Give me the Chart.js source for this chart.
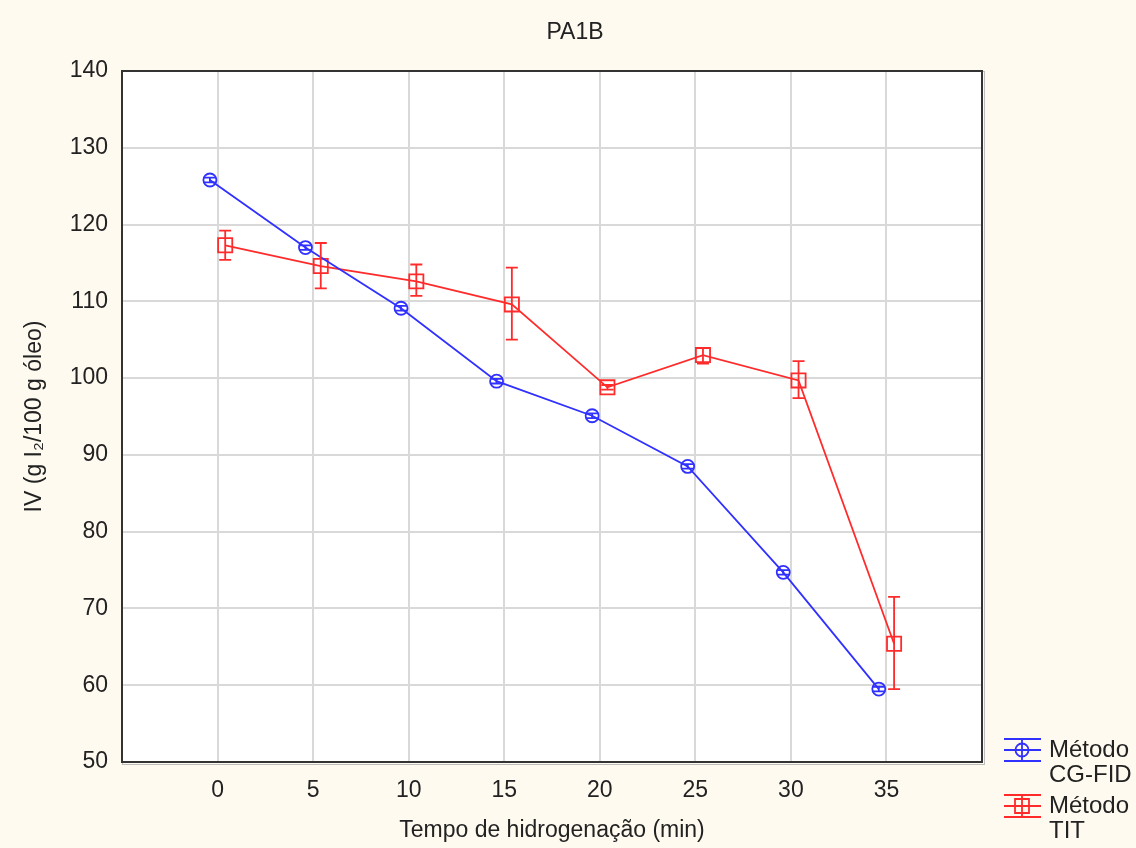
<!DOCTYPE html>
<html>
<head>
<meta charset="utf-8">
<script src="https://cdn.jsdelivr.net/npm/chart.js@4.4.0/dist/chart.umd.min.js"></script>
<style>
  html, body { margin: 0; padding: 0; background: #fffaf0; }
  #wrap { width: 1136px; height: 848px; }
</style>
</head>
<body>
<div id="wrap"><canvas id="chart" width="1136" height="848"></canvas></div>
<script>
// values
const times = [0, 5, 10, 15, 20, 25, 30, 35];
const cgfid = [125.8, 117.0, 109.1, 99.6, 95.1, 88.5, 74.7, 59.5];
const cgfidLow = [125.5, 116.7, 108.8, 99.3, 94.8, 88.2, 74.4, 59.2];
const cgfidHigh = [126.1, 117.3, 109.4, 99.9, 95.4, 88.8, 75.0, 59.8];
const tit = [117.3, 114.6, 112.6, 109.6, 98.8, 103.0, 99.7, 65.4];
const titLow = [115.4, 111.7, 110.7, 105.0, 98.5, 101.9, 97.4, 59.5];
const titHigh = [119.2, 117.6, 114.8, 114.4, 99.1, 103.9, 102.2, 71.5];
const chartTitle = 'PA1B';
const legendLabels = [['Método', 'CG-FID'], ['Método', 'TIT']];

const BLUE = '#3030ff';
const RED = '#ff2b2b';
const FONT = '"Liberation Sans", Arial, sans-serif';
const shift = 0.4; // small horizontal offset between the two series

// background, white plot area, frame and title
const bgPlugin = {
  id: 'bg',
  beforeDraw(chart) {
    const { ctx, chartArea: a } = chart;
    ctx.save();
    ctx.fillStyle = '#fffaf0';
    ctx.fillRect(0, 0, chart.width, chart.height);
    ctx.fillStyle = '#ffffff';
    ctx.fillRect(a.left, a.top, a.right - a.left, a.bottom - a.top);
    ctx.restore();
  },
  afterDraw(chart) {
    const { ctx, chartArea: a } = chart;
    ctx.save();
    ctx.strokeStyle = '#bdbdbd';
    ctx.lineWidth = 1;
    ctx.strokeRect(a.left + 0.5, a.top + 0.5, a.right - a.left + 2, a.bottom - a.top + 2);
    ctx.strokeStyle = '#333333';
    ctx.lineWidth = 2;
    ctx.strokeRect(a.left, a.top, a.right - a.left, a.bottom - a.top);
    ctx.fillStyle = '#222';
    ctx.font = '23px ' + FONT;
    ctx.textAlign = 'center';
    ctx.textBaseline = 'middle';
    ctx.fillText(chartTitle, 575, 33);
    ctx.restore();
  }
};

// vertical error bars with caps
const errPlugin = {
  id: 'errbars',
  afterDatasetsDraw(chart) {
    const { ctx } = chart;
    const xs = chart.scales.x, ys = chart.scales.y;
    ctx.save();
    chart.data.datasets.forEach(ds => {
      ctx.strokeStyle = ds.borderColor;
      ctx.lineWidth = 1.8;
      ds.data.forEach((p, i) => {
        const x = xs.getPixelForValue(p.x);
        const y1 = ys.getPixelForValue(ds.errLow[i]);
        const y2 = ys.getPixelForValue(ds.errHigh[i]);
        ctx.beginPath();
        ctx.moveTo(x, y1); ctx.lineTo(x, y2);
        ctx.moveTo(x - 6, y1); ctx.lineTo(x + 6, y1);
        ctx.moveTo(x - 6, y2); ctx.lineTo(x + 6, y2);
        ctx.stroke();
      });
    });
    ctx.restore();
  }
};

// legend at bottom right, outside the plot
const legendPlugin = {
  id: 'sideLegend',
  afterDraw(chart) {
    const { ctx } = chart;
    const rows = [
      { y: 750, color: BLUE, shape: 'circle', text: legendLabels[0] },
      { y: 806, color: RED, shape: 'rect', text: legendLabels[1] }
    ];
    ctx.save();
    rows.forEach(r => {
      ctx.strokeStyle = r.color;
      ctx.lineWidth = 1.8;
      ctx.beginPath();
      ctx.moveTo(1004, r.y); ctx.lineTo(1041, r.y);
      ctx.moveTo(1004, r.y - 11); ctx.lineTo(1041, r.y - 11);
      ctx.moveTo(1004, r.y + 11); ctx.lineTo(1041, r.y + 11);
      ctx.moveTo(1022, r.y - 11); ctx.lineTo(1022, r.y + 11);
      ctx.stroke();
      ctx.beginPath();
      if (r.shape === 'circle') ctx.arc(1022, r.y, 6.5, 0, Math.PI * 2);
      else ctx.rect(1015, r.y - 7, 14, 14);
      ctx.stroke();
      ctx.fillStyle = '#222';
      ctx.font = '24px ' + FONT;
      ctx.textBaseline = 'middle';
      ctx.fillText(r.text[0], 1049, r.y);
      ctx.fillText(r.text[1], 1049, r.y + 25);
    });
    ctx.restore();
  }
};

new Chart(document.getElementById('chart'), {
  type: 'scatter',
  data: {
    datasets: [
      {
        label: legendLabels[0].join(' '),
        data: times.map((t, i) => ({ x: t - shift, y: cgfid[i] })),
        errLow: cgfidLow,
        errHigh: cgfidHigh,
        showLine: true,
        borderColor: BLUE,
        borderWidth: 1.8,
        pointStyle: 'circle',
        pointRadius: 6.5,
        pointBorderWidth: 1.8,
        pointBackgroundColor: 'rgba(255,255,255,0)',
        pointBorderColor: BLUE
      },
      {
        label: legendLabels[1].join(' '),
        data: times.map((t, i) => ({ x: t + shift, y: tit[i] })),
        errLow: titLow,
        errHigh: titHigh,
        showLine: true,
        borderColor: RED,
        borderWidth: 1.8,
        pointStyle: 'rect',
        pointRadius: 10,
        pointBorderWidth: 1.8,
        pointBackgroundColor: 'rgba(255,255,255,0)',
        pointBorderColor: RED
      }
    ]
  },
  options: {
    responsive: false,
    animation: false,
    devicePixelRatio: 1,
    layout: { padding: { left: 0, right: 154, top: 71, bottom: 0 } },
    plugins: {
      legend: { display: false },
      tooltip: { enabled: false },
      title: { display: false }
    },
    scales: {
      x: {
        type: 'linear',
        min: -5,
        max: 40,
        afterBuildTicks: scale => { scale.ticks = times.map(v => ({ value: v })); },
        afterFit: scale => { scale.height = 86; },
        grid: { color: '#d9d9d9', lineWidth: 2, drawTicks: false },
        border: { display: false },
        ticks: { color: '#222', padding: 15, font: { family: FONT, size: 23 } },
        title: {
          display: true,
          text: 'Tempo de hidrogenação (min)',
          color: '#222',
          font: { family: FONT, size: 23 },
          padding: { top: 0, bottom: 4 }
        }
      },
      y: {
        min: 50,
        max: 140,
        afterFit: scale => { scale.width = 122; },
        grid: { color: '#d9d9d9', lineWidth: 2, drawTicks: false },
        border: { display: false },
        ticks: { stepSize: 10, color: '#222', padding: 14, font: { family: FONT, size: 23 } },
        title: {
          display: true,
          text: 'IV (g I₂/100 g óleo)',
          color: '#222',
          font: { family: FONT, size: 23 },
          padding: { top: 21, bottom: 0 }
        }
      }
    }
  },
  plugins: [bgPlugin, errPlugin, legendPlugin]
});
</script>
</body>
</html>
